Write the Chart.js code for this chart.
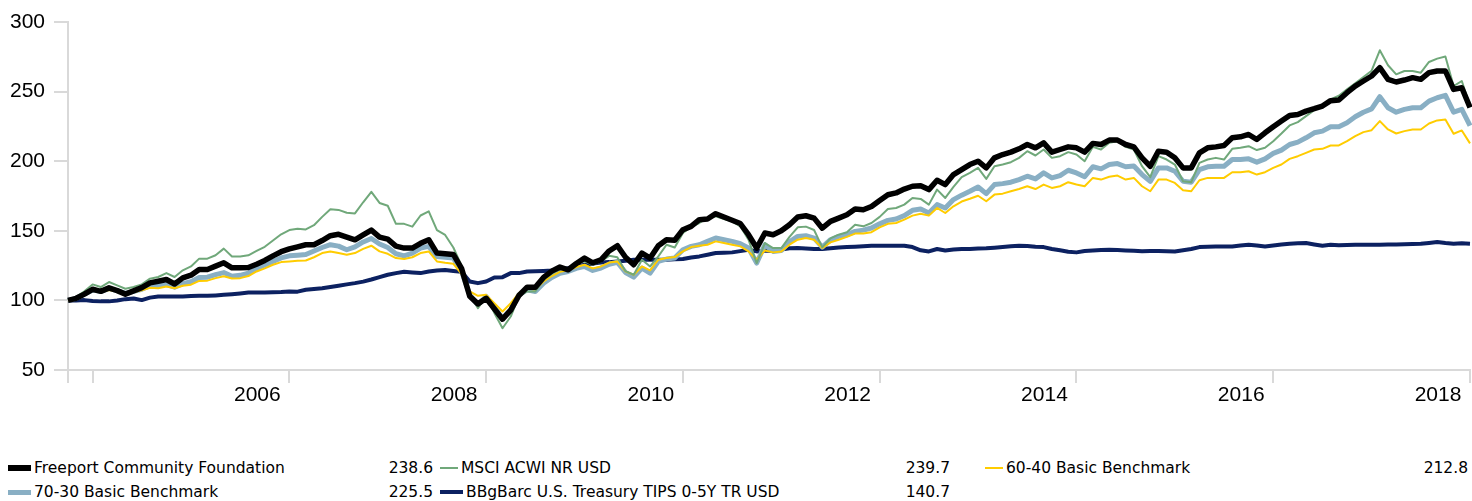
<!DOCTYPE html>
<html>
<head>
<meta charset="utf-8">
<script src="https://cdn.jsdelivr.net/npm/chart.js@4"></script>
<style>
    body { margin: 0; background: #fff; }
    #wrap { position: relative; width: 1472px; height: 501px; overflow: hidden; }
    #chart { position: absolute; left: 0; top: 0; }
    .lg { position: absolute; font: 15.5px "DejaVu Sans", Verdana, sans-serif; color: #000; line-height: 16px; white-space: nowrap; }
    .sw { position: absolute; }
    .val { text-align: right; width: 80px; }
</style>
</head>
<body>
<div id="wrap">
    <canvas id="chart" width="1472" height="420"></canvas>
    <div id="legend"></div>
</div>
<script>
// monthly, Sep 2004 .. Dec 2018
const tickIdx = [0, 3, 27, 51, 75, 99, 123, 147, 171];
const tickText = ["", "", "2006", "2008", "2010", "2012", "2014", "2016", "2018"];

const freeport = [
    100, 101.5, 104.5, 108, 106.5, 109, 107, 104.5, 106.8, 109.2, 112.6, 113.8,
    115, 111.8, 116.2, 118.1, 122.2, 122.2, 124.6, 127, 123.4, 123.4, 123.6, 126,
    128.7, 132, 135, 137, 138.5, 140, 140, 143, 146.5, 147.5, 145.5, 143.5,
    147, 150.5, 145.5, 144, 139, 137.6, 137.6, 141, 143.6, 134, 133.5, 133,
    123, 103, 97.5, 101.5, 94, 86.5, 93, 103.5, 109.5, 109.5, 116.5, 121,
    124, 122, 126.5, 130.4, 127, 129.2, 135.5, 139.3, 131, 125.6, 134, 130.4,
    139.3, 143.6, 143.2, 150.8, 153.2, 158, 158.5, 162.3, 159.9, 157.6, 155.2, 147.2,
    137.6, 148.4, 147.2, 150, 154.4, 159.9, 160.8, 159.1, 151.9, 156.8, 159.1, 161.5,
    165.6, 165.1, 167.5, 171.8, 175.9, 177.2, 180, 182, 182.4, 179.6, 186.3, 183.2,
    190.4, 194, 197.6, 200, 195.2, 202.4, 204.8, 206.5, 208.9, 212, 209.6, 213.2,
    206.5, 208.4, 210.3, 209.6, 206.5, 212.8, 212, 215.2, 215.2, 212, 210.3, 202.4,
    196.4, 207.2, 206.5, 202.4, 195.2, 195.2, 206, 209.6, 210.3, 211.3, 216.8, 217.5,
    219.2, 215.6, 220.4, 224.7, 228.8, 232.9, 233.6, 236, 237.7, 239.6, 243.5, 244,
    249.2, 254, 257.6, 261.2, 267.2, 258.8, 256.9, 258.3, 260, 258.8, 263.6, 264.8,
    264.8, 251.6, 252.8, 238.6
];

const msci = [
    100, 102.5, 106.5, 111.5, 109.6, 113.2, 110.8, 108.4, 109.6, 111.5, 115.6, 116.8,
    119.6, 116.8, 121.6, 124.4, 130, 130, 132.4, 137.2, 131.6, 131.6, 132.4, 135.5,
    138.5, 143, 147.5, 150.5, 151.5, 151, 154, 160, 165.5, 165, 163, 162.5,
    170.5, 178, 170, 168, 155, 155, 153, 161, 164, 150.5, 147, 138,
    125, 105, 94.4, 102.8, 91, 80, 88.4, 103, 106.4, 106.4, 114.8, 119,
    122.5, 123, 127, 128, 125.6, 128, 132, 131, 121, 118.4, 129.2, 124.4,
    131.6, 140, 138, 148.4, 152.7, 155.6, 159.2, 160.5, 158.5, 156.8, 153.2, 143.6,
    126.8, 141.2, 137.6, 137.6, 145.6, 152.5, 153, 150.6, 138.1, 144.6, 147.2, 148.9,
    154.4, 153.2, 155.6, 160, 165.6, 166.4, 168.8, 173.6, 172.9, 168.8, 179.6, 173.6,
    181.5, 188.5, 191.6, 195.2, 187.3, 196.4, 197.6, 199.3, 202.4, 207.2, 204.1, 208.4,
    202.4, 203.6, 206.5, 204.8, 200, 210.3, 208.4, 213.2, 214.4, 210.3, 208.4, 196.4,
    188.5, 203.6, 201.2, 197.6, 185.6, 184.9, 198.8, 201.2, 202.4, 201.2, 208.9, 209.6,
    210.8, 208, 209.6, 214.4, 219.9, 225.7, 228.1, 232.4, 236.7, 240.1, 244.4, 247,
    251.6, 256, 260.5, 265, 279.7, 268.9, 262.4, 264.8, 264.8, 263.6, 271.3, 273.7,
    275.2, 254, 257.6, 239.7
];

const bench6040 = [
    100, 101, 104, 107, 106, 107.5, 106.5, 104.5, 106, 107.2, 109, 108.7,
    110, 108.7, 110.5, 111.3, 114, 114.2, 116, 117.4, 115.7, 116, 117.5, 120.8,
    123, 125.6, 127.5, 128, 128.5, 128.7, 131, 134, 135.2, 134, 132.8, 134,
    137, 139.3, 135.2, 133.5, 130.4, 129.7, 131, 134, 135.2, 128, 127, 126.3,
    119, 106.4, 103.3, 104, 98, 92, 98, 105.2, 108.8, 107.6, 113.6, 117.5,
    120.5, 121.6, 124, 125.6, 123, 124.4, 127.2, 128, 120.8, 118.4, 124.4, 121.6,
    129.2, 130.4, 131.1, 135.2, 138.3, 139.3, 140, 142.4, 141.2, 140, 138.8, 135.2,
    129.2, 135.9, 134.5, 135.2, 140, 143.6, 144.8, 143.6, 137.6, 141.7, 143.6, 145.6,
    148, 148, 149, 152.5, 155, 155.6, 158, 160.9, 162.3, 160.9, 166.4, 162.8,
    167.6, 171, 173, 175.2, 171.2, 176, 176.7, 178.4, 180, 182, 180, 183.2,
    180.8, 182, 184.9, 183.2, 182, 188, 186.8, 188.8, 189.7, 186.8, 188, 182,
    178.4, 186.8, 186.8, 184.4, 179.1, 178.4, 186.3, 188, 188, 188, 192.1, 192.1,
    192.8, 190.4, 192.1, 195.2, 197.6, 201.7, 203.6, 206, 208.4, 208.9, 211.3, 211.3,
    214.4, 218, 220.9, 222.3, 228.8, 222.8, 219.9, 221.6, 222.8, 222.8, 227.1, 229.3,
    230, 219.7, 222.1, 212.8
];

const bench7030 = [
    100, 101.5, 104.5, 107.5, 106.5, 108.5, 107, 105, 106.5, 108, 110.5, 110.5,
    111.5, 109.5, 112, 113.5, 116.5, 116.7, 118.5, 120, 117.4, 118, 119.5, 123,
    125.5, 128, 130.5, 132, 132.5, 133, 135.5, 138, 140, 139, 136.4, 138.5,
    142, 144.5, 140.5, 138, 133.5, 132, 134, 137.6, 138.8, 131.6, 131, 130.4,
    121, 104, 96.8, 102.8, 95, 87.2, 93.2, 104, 107.6, 106.4, 112.4, 116.5,
    119.5, 120.8, 123, 124.4, 121.5, 123.2, 126, 127.4, 120, 116.7, 123.2, 119.6,
    128, 129.7, 130.4, 136.4, 138.8, 140, 142.4, 144.8, 143.6, 142.4, 140.7, 137.6,
    126.8, 140, 135.2, 135.8, 142, 146, 146.5, 144.8, 138.3, 143.6, 146, 147.2,
    149.6, 150.5, 152, 155, 157.5, 158.5, 160.9, 164.7, 165.6, 162.8, 168.8, 166.4,
    172.4, 175.6, 178.4, 181.5, 176.7, 183.2, 183.9, 184.9, 186.8, 189.2, 187.3, 191.6,
    188, 189.7, 193.5, 191.6, 188.8, 196, 194.5, 197.6, 198.3, 196, 196.5, 190.4,
    185.5, 195.2, 195.2, 192.8, 185.6, 184.9, 194, 196, 196.4, 196.4, 201.2, 201.2,
    201.7, 199.3, 201.7, 205.6, 208, 212, 213.7, 216.8, 220.4, 221.6, 224.7, 224.7,
    227.6, 231.9, 235.2, 237.6, 246.3, 238.4, 235.2, 237.2, 238.4, 238.4, 243.2, 245.6,
    247.3, 235.2, 237.2, 225.5
];

const tips = [
    100, 100, 100.2, 99.5, 99.3, 99.3, 100, 100.9, 101.4, 100.2, 102, 102.8,
    102.8, 102.8, 102.8, 103.2, 103.3, 103.3, 103.6, 104, 104.5, 105, 105.6, 105.6,
    105.6, 105.8, 106, 106.4, 106.3, 107.6, 108.2, 108.8, 109.6, 110.5, 111.5, 112.4,
    113.5, 115, 116.7, 118.4, 119.6, 120.6, 120.1, 119.6, 120.8, 121.5, 121.8, 121.2,
    120.5, 113.6, 112.4, 113.6, 116.5, 116.7, 119.6, 119.6, 120.8, 121, 121.2, 121.5,
    122.3, 123.2, 124.2, 125.6, 126.5, 127.3, 127.5, 128, 128.5, 129.2, 129.2, 129.2,
    129.2, 129.2, 129.5, 129.7, 130.8, 131.6, 132.8, 134, 134.2, 134.5, 135.4, 136.4,
    135.2, 135.9, 135.5, 136.5, 137.4, 137.6, 137.3, 137, 136.9, 137.4, 138, 138.3,
    138.6, 138.9, 139.2, 139.3, 139.3, 139.3, 139.3, 138.3, 136, 135.2, 136.9, 135.9,
    136.5, 136.9, 137, 137.2, 137.4, 137.9, 138.4, 138.9, 139.3, 139, 138.5, 138.3,
    136.9, 136, 135, 134.5, 135.5, 135.9, 136.2, 136.4, 136.2, 135.9, 135.6, 135.3,
    135.5, 135.5, 135.3, 135.2, 136, 136.9, 138.3, 138.5, 138.7, 138.8, 138.8, 139.5,
    140, 139.5, 138.8, 139.5, 140.2, 140.7, 141, 141.2, 140.2, 139.3, 140, 139.6,
    139.8, 140, 140, 140, 140, 140.1, 140.2, 140.4, 140.6, 140.7, 141.3, 141.9,
    141.2, 140.7, 141, 140.7
];

const months = [];
for (let i = 0; i < freeport.length; i++) {
    const m = 8 + i;
    months.push((2004 + Math.floor(m / 12)) + "-" + String(m % 12 + 1).padStart(2, "0"));
}

const series = [
    { name: "Freeport Community Foundation", data: freeport, color: "#000000", width: 5.5, last: "238.6" },
    { name: "MSCI ACWI NR USD", data: msci, color: "#70a87a", width: 2, last: "239.7" },
    { name: "60-40 Basic Benchmark", data: bench6040, color: "#ffcc00", width: 2, last: "212.8" },
    { name: "70-30 Basic Benchmark", data: bench7030, color: "#89afc4", width: 5, last: "225.5" },
    { name: "BBgBarc U.S. Treasury TIPS 0-5Y TR USD", data: tips, color: "#0c2161", width: 4, last: "140.7" }
];

const axisGrey = "#d9d9d9";
const tickFont = { family: "'Liberation Sans', Arial, sans-serif", size: 21 };

new Chart(document.getElementById("chart"), {
    type: "line",
    data: {
        labels: months,
        datasets: series.map(s => ({
            label: s.name,
            data: s.data,
            borderColor: s.color,
            backgroundColor: s.color,
            borderWidth: s.width,
            pointRadius: 0,
            tension: 0,
            borderJoinStyle: "round",
            fill: false
        }))
    },
    options: {
        responsive: false,
        animation: false,
        devicePixelRatio: 1,
        layout: { padding: { left: 0, right: 2, top: 22, bottom: 0 } },
        plugins: { legend: { display: false }, tooltip: { enabled: false } },
        scales: {
            x: {
                type: "category",
                offset: false,
                afterBuildTicks: s => { s.ticks = tickIdx.map(v => ({ value: v })); },
                afterFit: s => { s.height = 50; s.paddingLeft = 0; s.paddingRight = 0; },
                ticks: {
                    autoSkip: false,
                    maxRotation: 0,
                    padding: 0,
                    labelOffset: -32,
                    color: "#000",
                    font: tickFont,
                    callback: (v, i) => tickText[i]
                },
                grid: { drawOnChartArea: false, color: axisGrey, lineWidth: 2, tickLength: 13 },
                border: { color: axisGrey, width: 2 }
            },
            y: {
                min: 50,
                max: 300,
                afterFit: s => { s.width = 68; },
                ticks: { stepSize: 50, padding: 9, color: "#000", font: tickFont },
                grid: { drawOnChartArea: false, color: axisGrey, lineWidth: 2, tickLength: 14 },
                border: { color: axisGrey, width: 2 }
            }
        }
    }
});

// html legend, three columns
const cols = [
    { icon: 8, valRight: 433 },
    { icon: 440, valRight: 950 },
    { icon: 985, valRight: 1468 }
];
const slots = [[0, 0], [0, 1], [0, 2], [1, 0], [1, 1]];
const legend = document.getElementById("legend");
series.forEach((s, n) => {
    const row = slots[n][0], col = cols[slots[n][1]];
    const cy = row === 0 ? 468 : 492;
    const w = s.width > 3 ? 23 : 18;
    const h = s.width > 3 ? Math.round(s.width) : 2;
    const sw = document.createElement("div");
    sw.className = "sw";
    sw.style.cssText = `left:${col.icon}px;top:${cy - h / 2}px;width:${w}px;height:${h}px;background:${s.color}`;
    legend.appendChild(sw);
    const t = document.createElement("div");
    t.className = "lg";
    t.textContent = s.name;
    t.style.left = (col.icon + w + 3) + "px";
    t.style.top = (cy - 8) + "px";
    legend.appendChild(t);
    const v = document.createElement("div");
    v.className = "lg val";
    v.textContent = s.last;
    v.style.left = (col.valRight - 80) + "px";
    v.style.top = (cy - 8) + "px";
    legend.appendChild(v);
});
</script>
</body>
</html>
